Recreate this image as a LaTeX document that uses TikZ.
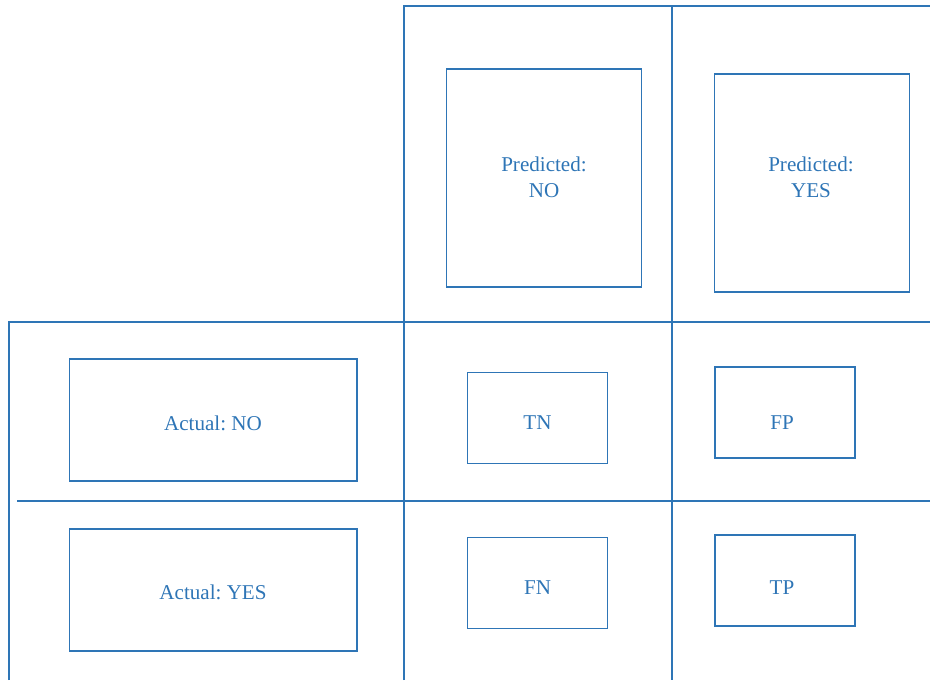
\documentclass[tikz,border=0pt]{standalone}
\usepackage{tikz}
\usepackage{fontspec}
\setmainfont{Liberation Serif}
\frenchspacing
\definecolor{cmblue}{RGB}{46,117,182}

\begin{document}
\begin{tikzpicture}[x=0.02cm, y=-0.02cm, line width=0.6pt, draw=cmblue,
    lbox/.style={draw, inner sep=0pt},
    ltext/.style={align=center, text=cmblue, inner sep=0pt, font=\fontsize{12}{14.7}\selectfont},
    pbox/.style={lbox, minimum width=3.9cm, minimum height=4.36cm},
    abox/.style={lbox, minimum width=5.76cm, minimum height=2.44cm},
    cbox/.style={lbox, minimum width=2.8cm, minimum height=1.82cm}]
    \useasboundingbox (0,0) rectangle (930,680);

    % grid
    \draw (404,680) -- (404,6) -- (930,6);
    \draw (672,6) -- (672,680);
    \draw (9,680) -- (9,322) -- (930,322);
    \draw (17,501) -- (930,501);

    % headers
    \node[pbox] (pno) at (544,178) {};
    \node[pbox] (pyes) at (812,183) {};
    \node[abox] (ano) at (213,420) {};
    \node[abox] (ayes) at (213,590) {};
    \node[ltext] (pnot) at (544,177) {Predicted:\\NO};
    \node[ltext] (pyest) at (811,177) {Predicted:\\YES};
    \node[ltext] (anot) at (213,423) {Actual: NO};
    \node[ltext] (ayest) at (213,592) {Actual: YES};

    % cells
    \node[cbox] (tn) at (537.5,418) {};
    \node[cbox] (fp) at (785,412.5) {};
    \node[cbox] (fn) at (537.5,583) {};
    \node[cbox] (tp) at (785,580.5) {};
    \node[ltext] (tnt) at (537.5,423) {TN};
    \node[ltext] (fpt) at (782,423) {FP};
    \node[ltext] (fnt) at (537.5,588) {FN};
    \node[ltext] (tpt) at (782,588) {TP};
\end{tikzpicture}
\end{document}
